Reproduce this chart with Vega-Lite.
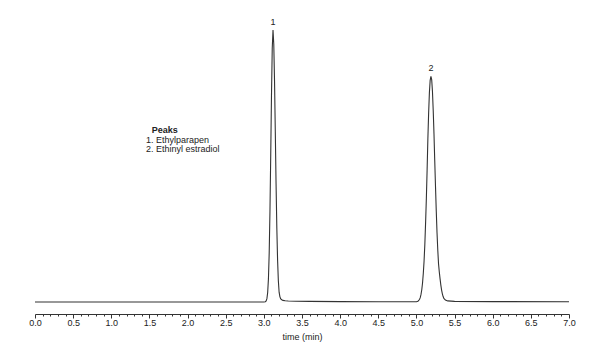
{
  "$schema": "https://vega.github.io/schema/vega-lite/v6.json",
  "width": 534,
  "height": 294,
  "autosize": "none",
  "padding": {"left": 35, "top": 20, "right": 36, "bottom": 46},
  "config": {"view": {"stroke": null}, "font": "Liberation Sans", "background": "white"},
  "layer": [
    {
      "data": {"values": [
        {"t": 0, "s": 0}, {"t": 1, "s": 0}, {"t": 2, "s": 0}, {"t": 2.9, "s": 0}, {"t": 3.0, "s": 0},
        {"t": 3.02, "s": 0.1}, {"t": 3.03, "s": 0.39}, {"t": 3.04, "s": 1.24}, {"t": 3.05, "s": 3.5},
        {"t": 3.06, "s": 8.5}, {"t": 3.07, "s": 18.0}, {"t": 3.08, "s": 33.4}, {"t": 3.09, "s": 53.9},
        {"t": 3.10, "s": 76.0}, {"t": 3.11, "s": 93.4}, {"t": 3.12, "s": 100}, {"t": 3.13, "s": 94.9},
        {"t": 3.14, "s": 81.2}, {"t": 3.15, "s": 62.6}, {"t": 3.16, "s": 43.5}, {"t": 3.17, "s": 27.2},
        {"t": 3.18, "s": 15.4}, {"t": 3.19, "s": 7.8}, {"t": 3.20, "s": 3.6}, {"t": 3.21, "s": 2.0},
        {"t": 3.22, "s": 1.2}, {"t": 3.23, "s": 0.9}, {"t": 3.25, "s": 0.6}, {"t": 3.28, "s": 0.45},
        {"t": 3.32, "s": 0.38}, {"t": 3.42, "s": 0.3}, {"t": 3.6, "s": 0.22}, {"t": 4.0, "s": 0.15},
        {"t": 4.5, "s": 0.1}, {"t": 4.9, "s": 0.08}, {"t": 5.0, "s": 0.12}, {"t": 5.02, "s": 0.3},
        {"t": 5.04, "s": 0.9}, {"t": 5.05, "s": 1.6}, {"t": 5.06, "s": 2.8}, {"t": 5.07, "s": 4.5},
        {"t": 5.08, "s": 7}, {"t": 5.09, "s": 10.5}, {"t": 5.10, "s": 15}, {"t": 5.11, "s": 21},
        {"t": 5.12, "s": 29}, {"t": 5.13, "s": 38}, {"t": 5.14, "s": 48.5}, {"t": 5.15, "s": 60},
        {"t": 5.16, "s": 69.5}, {"t": 5.17, "s": 77}, {"t": 5.18, "s": 81.5}, {"t": 5.19, "s": 83},
        {"t": 5.20, "s": 81.8}, {"t": 5.21, "s": 77.5}, {"t": 5.22, "s": 70.5}, {"t": 5.23, "s": 62},
        {"t": 5.24, "s": 52}, {"t": 5.25, "s": 42.5}, {"t": 5.26, "s": 33.5}, {"t": 5.27, "s": 25.5},
        {"t": 5.28, "s": 19}, {"t": 5.29, "s": 14}, {"t": 5.30, "s": 11}, {"t": 5.31, "s": 8.5},
        {"t": 5.32, "s": 6.2}, {"t": 5.33, "s": 4.4}, {"t": 5.34, "s": 3.0}, {"t": 5.35, "s": 2.0},
        {"t": 5.36, "s": 1.3}, {"t": 5.38, "s": 0.7}, {"t": 5.41, "s": 0.4}, {"t": 5.5, "s": 0.25},
        {"t": 6.0, "s": 0.15}, {"t": 7.0, "s": 0.1}
      ]},
      "mark": {"type": "line", "color": "#333333", "strokeWidth": 1.1},
      "encoding": {
        "x": {
          "field": "t", "type": "quantitative",
          "scale": {"domain": [0, 7], "nice": false, "zero": false},
          "axis": {
            "title": "time (min)",
            "tickCount": 80,
            "labelExpr": "abs(datum.value*2 - round(datum.value*2)) < 0.001 ? format(datum.value, '.1f') : ''",
            "tickSize": {"condition": {"test": "abs(datum.value*2 - round(datum.value*2)) < 0.001", "value": 4}, "value": 2},
            "labelOverlap": false,
            "labelFlush": false,
            "labelFontSize": 9,
            "titleFontSize": 9,
            "titleFontWeight": "normal",
            "labelPadding": 0,
            "titlePadding": 5,
            "grid": false,
            "domainColor": "#333333",
            "tickColor": "#333333",
            "labelColor": "#222222",
            "titleColor": "#222222"
          }
        },
        "y": {
          "field": "s", "type": "quantitative",
          "scale": {"domain": [-4.41, 103.7], "nice": false, "zero": false},
          "axis": null
        }
      }
    },
    {
      "data": {"values": [
        {"t": 3.12, "s": 100, "label": "1"},
        {"t": 5.19, "s": 83, "label": "2"}
      ]},
      "mark": {"type": "text", "fontSize": 9, "color": "#222222", "baseline": "alphabetic", "dy": -5},
      "encoding": {
        "x": {"field": "t", "type": "quantitative"},
        "y": {"field": "s", "type": "quantitative"},
        "text": {"field": "label"}
      }
    },
    {
      "data": {"values": [
        {"t": 1.53, "s": 63.2, "label": "Peaks"}
      ]},
      "mark": {"type": "text", "fontSize": 9, "fontWeight": "bold", "color": "#222222", "align": "left", "baseline": "middle"},
      "encoding": {
        "x": {"field": "t", "type": "quantitative"},
        "y": {"field": "s", "type": "quantitative"},
        "text": {"field": "label"}
      }
    },
    {
      "data": {"values": [
        {"t": 1.455, "s": 59.6, "label": "1. Ethylparapen"},
        {"t": 1.455, "s": 56.4, "label": "2. Ethinyl estradiol"}
      ]},
      "mark": {"type": "text", "fontSize": 9, "color": "#222222", "align": "left", "baseline": "middle"},
      "encoding": {
        "x": {"field": "t", "type": "quantitative"},
        "y": {"field": "s", "type": "quantitative"},
        "text": {"field": "label"}
      }
    }
  ]
}
